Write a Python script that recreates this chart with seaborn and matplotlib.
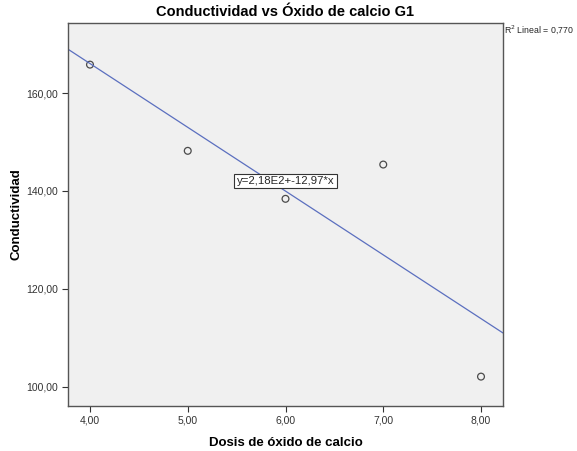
import seaborn as sns
import matplotlib.pyplot as plt
import pandas as pd

dosis = [4.0, 5.0, 6.0, 7.0, 8.0]
conductividad = [165.8, 148.2, 138.4, 145.4, 102.1]
x_ticks = [4, 5, 6, 7, 8]
y_ticks = [100, 120, 140, 160]

def fmt(v):
    return f"{v:.2f}".replace(".", ",")

def main():
    data = pd.DataFrame({"Dosis": dosis, "Conductividad": conductividad})
    sns.set_style("white")
    plt.rcParams["font.family"] = ["Liberation Sans", "DejaVu Sans"]
    fig = plt.figure(figsize=(5.77, 4.51), dpi=100)
    ax = fig.add_axes([68 / 577, 1 - 406 / 451, 435 / 577, 383 / 451])
    ax.set_facecolor("#f0f0f0")
    ax.set_xlim(3.775, 8.225)
    ax.set_ylim(96.1, 174.3)

    sns.regplot(data=data, x="Dosis", y="Conductividad", ax=ax, ci=None, truncate=False,
                scatter_kws=dict(facecolors="none", edgecolors="#222222", s=24, linewidths=0.9),
                line_kws=dict(color="#5b6fbf", linewidth=0.9))
    ax.set_xlim(3.775, 8.225)
    ax.set_ylim(96.1, 174.3)

    ax.set_xticks(x_ticks)
    ax.set_xticklabels([fmt(v) for v in x_ticks], fontsize=7.5, color="#333333")
    ax.set_yticks(y_ticks)
    ax.set_yticklabels([fmt(v) for v in y_ticks], fontsize=7.5, color="#333333")
    ax.tick_params(axis="both", length=4, width=0.8, color="#333333", direction="out", pad=3)
    ax.tick_params(bottom=True, left=True)
    for s in ax.spines.values():
        s.set_color("#555555")
        s.set_linewidth(1.0)

    ax.set_xlabel("Dosis de óxido de calcio", fontsize=9.5, fontweight="bold", labelpad=8, color="black")
    ax.set_ylabel("Conductividad", fontsize=9.5, fontweight="bold", labelpad=3, color="black")
    ax.set_title("Conductividad vs Óxido de calcio G1", fontsize=10.5, fontweight="bold", pad=5, color="black")

    ax.text(6.0, 142.0, "y=2,18E2+-12,97*x", fontsize=8.2, ha="center", va="center",
            bbox=dict(boxstyle="square,pad=0.2", facecolor="white", edgecolor="#333333", linewidth=0.8))

    fig.text(504 / 577, 1 - 30 / 451, r"R$^2$ Lineal = 0,770", fontsize=6.3, ha="left", va="center")

    plt.savefig("out.png", dpi=100)

if __name__ == "__main__":
    main()
